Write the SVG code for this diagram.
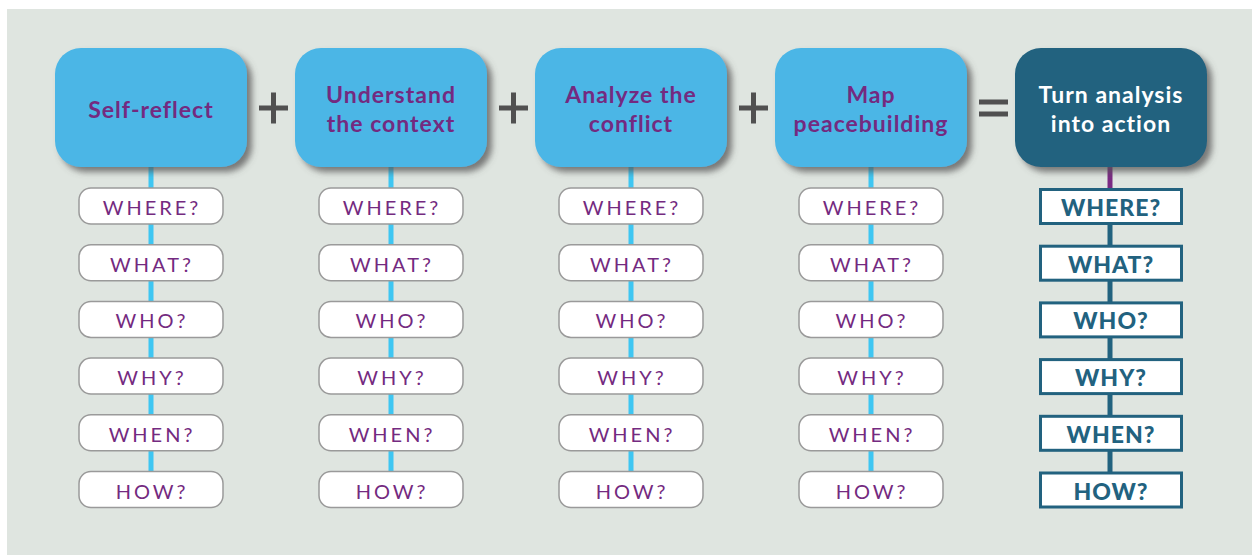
<svg xmlns="http://www.w3.org/2000/svg" width="1252" height="555" viewBox="0 0 1252 555">
  <defs>
    <filter id="shadow" x="-20%" y="-20%" width="150%" height="150%">
      <feGaussianBlur in="SourceAlpha" stdDeviation="3"/>
      <feOffset dx="5" dy="5" result="b"/>
      <feFlood flood-color="#555" flood-opacity="0.75"/>
      <feComposite in2="b" operator="in"/>
      <feMerge><feMergeNode/><feMergeNode in="SourceGraphic"/></feMerge>
    </filter>
    <style>
      .step { fill: #4cb6e6; filter: url(#shadow); }
      .goal { fill: #22627f; filter: url(#shadow); }
      .title { font-family: Lato, "Liberation Sans", sans-serif; font-weight: 700; font-size: 23px; letter-spacing: 1px; fill: #742a80; text-anchor: middle; }
      .goal-title { fill: #ffffff; }
      .pill { fill: #ffffff; stroke: #9a9a9a; stroke-width: 1.5; }
      .q { font-family: Lato, "Liberation Sans", sans-serif; font-weight: 400; font-size: 20px; letter-spacing: 3px; fill: #742a80; text-anchor: middle; }
      .qbox { fill: #ffffff; stroke: #22627f; stroke-width: 3; }
      .qb { font-family: Lato, "Liberation Sans", sans-serif; font-weight: 900; font-size: 23px; letter-spacing: 1px; fill: #22627f; text-anchor: middle; }
      .stem { stroke: #3ec6f2; stroke-width: 5; }
      .stem-goal { stroke: #22627f; stroke-width: 5; }
      .stem-top { stroke: #7a2a83; stroke-width: 5; }
      .op { fill: #505050; }
    </style>
  </defs>

  <!-- backdrop -->
  <rect x="7" y="9" width="1245" height="546" fill="#dfe5e0"/>

  <!-- connectors: spines linking each step to its question list -->
  <g id="connectors">
    <line class="stem" x1="151" y1="160" x2="151" y2="480"/>
    <line class="stem" x1="391" y1="160" x2="391" y2="480"/>
    <line class="stem" x1="631" y1="160" x2="631" y2="480"/>
    <line class="stem" x1="871" y1="160" x2="871" y2="480"/>
    <line class="stem-goal" x1="1110" y1="188" x2="1110" y2="480"/>
    <line class="stem-top" x1="1110" y1="160" x2="1110" y2="188"/>
  </g>

  <!-- operators between steps -->
  <g id="operators">
    <rect class="op" x="259" y="105.5" width="29" height="5"/>
    <rect class="op" x="271" y="92.5" width="5" height="31"/>
    <rect class="op" x="499" y="105.5" width="29" height="5"/>
    <rect class="op" x="511" y="92.5" width="5" height="31"/>
    <rect class="op" x="739" y="105.5" width="29" height="5"/>
    <rect class="op" x="751" y="92.5" width="5" height="31"/>
    <rect class="op" x="979" y="99.5" width="29" height="5"/>
    <rect class="op" x="979" y="111.5" width="29" height="5"/>
  </g>

  <!-- step 1 -->
  <g id="self-reflect">
    <rect class="step" x="55" y="48" width="192" height="119" rx="26"/>
    <text class="title" x="151" y="118">Self-reflect</text>
    <rect class="pill" x="79" y="188" width="144" height="36" rx="12"/><text class="q" x="152" y="215">WHERE?</text>
    <rect class="pill" x="79" y="244.7" width="144" height="36" rx="12"/><text class="q" x="152" y="271.7">WHAT?</text>
    <rect class="pill" x="79" y="301.4" width="144" height="36" rx="12"/><text class="q" x="152" y="328.4">WHO?</text>
    <rect class="pill" x="79" y="358.1" width="144" height="36" rx="12"/><text class="q" x="152" y="385.1">WHY?</text>
    <rect class="pill" x="79" y="414.8" width="144" height="36" rx="12"/><text class="q" x="152" y="441.8">WHEN?</text>
    <rect class="pill" x="79" y="471.5" width="144" height="36" rx="12"/><text class="q" x="152" y="498.5">HOW?</text>
  </g>

  <!-- step 2 -->
  <g id="understand-context">
    <rect class="step" x="295" y="48" width="192" height="119" rx="26"/>
    <text class="title" x="391" y="103">Understand</text>
    <text class="title" x="391" y="132">the context</text>
    <rect class="pill" x="319" y="188" width="144" height="36" rx="12"/><text class="q" x="392" y="215">WHERE?</text>
    <rect class="pill" x="319" y="244.7" width="144" height="36" rx="12"/><text class="q" x="392" y="271.7">WHAT?</text>
    <rect class="pill" x="319" y="301.4" width="144" height="36" rx="12"/><text class="q" x="392" y="328.4">WHO?</text>
    <rect class="pill" x="319" y="358.1" width="144" height="36" rx="12"/><text class="q" x="392" y="385.1">WHY?</text>
    <rect class="pill" x="319" y="414.8" width="144" height="36" rx="12"/><text class="q" x="392" y="441.8">WHEN?</text>
    <rect class="pill" x="319" y="471.5" width="144" height="36" rx="12"/><text class="q" x="392" y="498.5">HOW?</text>
  </g>

  <!-- step 3 -->
  <g id="analyze-conflict">
    <rect class="step" x="535" y="48" width="192" height="119" rx="26"/>
    <text class="title" x="631" y="103">Analyze the</text>
    <text class="title" x="631" y="132">conflict</text>
    <rect class="pill" x="559" y="188" width="144" height="36" rx="12"/><text class="q" x="632" y="215">WHERE?</text>
    <rect class="pill" x="559" y="244.7" width="144" height="36" rx="12"/><text class="q" x="632" y="271.7">WHAT?</text>
    <rect class="pill" x="559" y="301.4" width="144" height="36" rx="12"/><text class="q" x="632" y="328.4">WHO?</text>
    <rect class="pill" x="559" y="358.1" width="144" height="36" rx="12"/><text class="q" x="632" y="385.1">WHY?</text>
    <rect class="pill" x="559" y="414.8" width="144" height="36" rx="12"/><text class="q" x="632" y="441.8">WHEN?</text>
    <rect class="pill" x="559" y="471.5" width="144" height="36" rx="12"/><text class="q" x="632" y="498.5">HOW?</text>
  </g>

  <!-- step 4 -->
  <g id="map-peacebuilding">
    <rect class="step" x="775" y="48" width="192" height="119" rx="26"/>
    <text class="title" x="871" y="103">Map</text>
    <text class="title" x="871" y="132">peacebuilding</text>
    <rect class="pill" x="799" y="188" width="144" height="36" rx="12"/><text class="q" x="872" y="215">WHERE?</text>
    <rect class="pill" x="799" y="244.7" width="144" height="36" rx="12"/><text class="q" x="872" y="271.7">WHAT?</text>
    <rect class="pill" x="799" y="301.4" width="144" height="36" rx="12"/><text class="q" x="872" y="328.4">WHO?</text>
    <rect class="pill" x="799" y="358.1" width="144" height="36" rx="12"/><text class="q" x="872" y="385.1">WHY?</text>
    <rect class="pill" x="799" y="414.8" width="144" height="36" rx="12"/><text class="q" x="872" y="441.8">WHEN?</text>
    <rect class="pill" x="799" y="471.5" width="144" height="36" rx="12"/><text class="q" x="872" y="498.5">HOW?</text>
  </g>

  <!-- result -->
  <g id="turn-into-action">
    <rect class="goal" x="1015" y="48" width="192" height="119" rx="26"/>
    <text class="title goal-title" x="1111" y="103">Turn analysis</text>
    <text class="title goal-title" x="1111" y="132">into action</text>
    <rect class="qbox" x="1040.5" y="189.5" width="141" height="34"/><text class="qb" x="1111" y="216">WHERE?</text>
    <rect class="qbox" x="1040.5" y="246.2" width="141" height="34"/><text class="qb" x="1111" y="272.7">WHAT?</text>
    <rect class="qbox" x="1040.5" y="302.9" width="141" height="34"/><text class="qb" x="1111" y="329.4">WHO?</text>
    <rect class="qbox" x="1040.5" y="359.6" width="141" height="34"/><text class="qb" x="1111" y="386.1">WHY?</text>
    <rect class="qbox" x="1040.5" y="416.3" width="141" height="34"/><text class="qb" x="1111" y="442.8">WHEN?</text>
    <rect class="qbox" x="1040.5" y="473" width="141" height="34"/><text class="qb" x="1111" y="499.5">HOW?</text>
  </g>
</svg>
